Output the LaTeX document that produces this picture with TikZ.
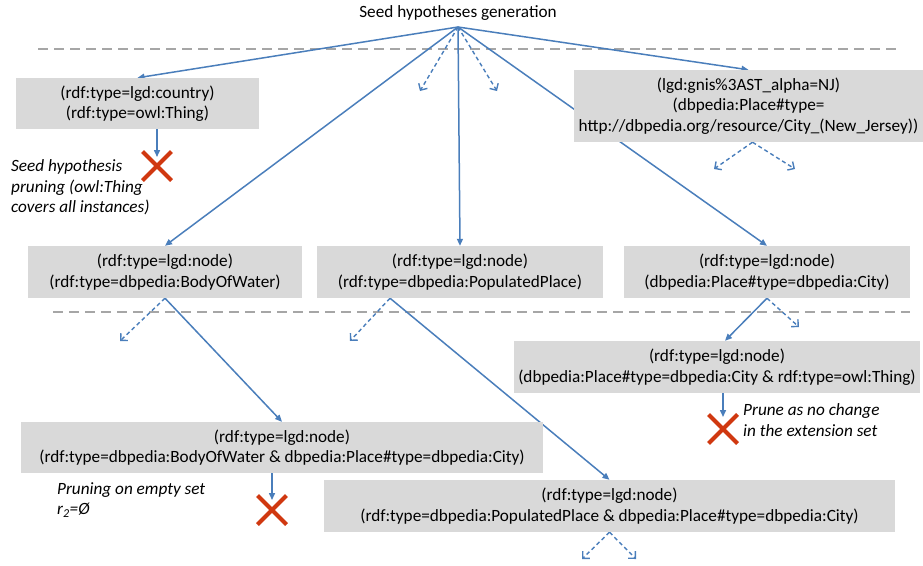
\documentclass[tikz,border=0pt]{standalone}
\usepackage{fontspec}
\setmainfont{Carlito}
\usetikzlibrary{arrows.meta,shapes.misc,calc,backgrounds}

\definecolor{arrblue}{RGB}{74,126,187}
\definecolor{boxgray}{RGB}{217,217,217}
\definecolor{dashgray}{RGB}{166,166,166}
\definecolor{xred}{RGB}{208,56,16}

\tikzset{
 hyp/.style={rectangle, fill=boxgray, inner sep=0pt, align=center, font=\fontsize{17.2}{20.5}\selectfont},
 note/.style={align=left, inner sep=0pt, font=\fontsize{17.2}{20.5}\selectfont\itshape, anchor=west},
 solidarr/.style={draw=arrblue, line width=1.5pt, -{Triangle[length=7pt,width=6pt]}},
 dasharr/.style={draw=arrblue, line width=1.4pt, dash pattern=on 4pt off 3pt, -{Straight Barb[length=5pt,width=10pt]}},
 sepline/.style={draw=dashgray, line width=2pt, dash pattern=on 10pt off 6pt},
 xmark/.style={cross out, draw=xred, line width=4pt, minimum size=25pt, inner sep=0pt},
}

\begin{document}
\begin{tikzpicture}[x=1pt,y=-1pt]
\useasboundingbox (0,0) rectangle (923,565);

% title
\node[font=\fontsize{17.2}{20.5}\selectfont, inner sep=0pt] (seed) at (458,13) {Seed hypotheses generation};
\coordinate (src) at (458,27);

% boxes
\node[hyp, minimum width=243pt, minimum height=51pt] (b1) at (137.5,103.5) {(rdf:type=lgd:country)\\(rdf:type=owl:Thing)};
\node[hyp, minimum width=349pt, minimum height=72pt] (nj) at (748.5,106) {(lgd:gnis\%3AST\_alpha=NJ)\\(dbpedia:Place\#type=\\http://dbpedia.org/resource/City\_(New\_Jersey))};
\node[hyp, minimum width=274pt, minimum height=52pt] (bw) at (165,272) {(rdf:type=lgd:node)\\(rdf:type=dbpedia:BodyOfWater)};
\node[hyp, minimum width=286pt, minimum height=52pt] (pp) at (460,272) {(rdf:type=lgd:node)\\(rdf:type=dbpedia:PopulatedPlace)};
\node[hyp, minimum width=286pt, minimum height=52pt] (ci) at (767,272) {(rdf:type=lgd:node)\\(dbpedia:Place\#type=dbpedia:City)};
\node[hyp, minimum width=406pt, minimum height=52pt] (cit) at (717,367) {(rdf:type=lgd:node)\\(dbpedia:Place\#type=dbpedia:City \& rdf:type=owl:Thing)};
\node[hyp, minimum width=522pt, minimum height=51pt] (bwc) at (282,447.5) {(rdf:type=lgd:node)\\(rdf:type=dbpedia:BodyOfWater \& dbpedia:Place\#type=dbpedia:City)};
\node[hyp, minimum width=571pt, minimum height=52pt] (ppc) at (609.5,506) {(rdf:type=lgd:node)\\(rdf:type=dbpedia:PopulatedPlace \& dbpedia:Place\#type=dbpedia:City)};

% crosses
\node[xmark] (x1) at (157,166) {};
\node[xmark] (x2) at (723,429) {};
\node[xmark] (x3) at (272,510) {};

% notes
\node[note] (n1) at (11,187.5) {Seed hypothesis\\pruning (owl:Thing\\covers all instances)};
\node[note] (n2) at (57,500) {Pruning on empty set\\r\textsubscript{2}=Ø};
\node[note] (n3) at (743,420) {Prune as no change\\in the extension set};

% free ends
\coordinate (s1a) at (38,49);
\coordinate (s1b) at (898,49);
\coordinate (s2a) at (53,312);
\coordinate (s2b) at (910,312);
\coordinate (d1) at (420,91);
\coordinate (d2) at (497,91);
\coordinate (d3) at (714,169);
\coordinate (d4) at (795,169);
\coordinate (d5) at (120,341);
\coordinate (d6) at (350,341);
\coordinate (d7) at (799,327);
\coordinate (d8) at (582,559);
\coordinate (d9) at (636,559);
\coordinate (ppb) at ($(pp.south)+(-70,0)$);
\coordinate (njb) at ($(nj.south)+(4,0)$);

\begin{scope}[on background layer]
\draw[sepline] (s1a) -- (s1b);
\draw[sepline] (s2a) -- (s2b);

\draw[solidarr] (src) -- (b1.north);
\draw[solidarr] (src) -- (nj.north);
\draw[solidarr] (src) -- (bw.north);
\draw[solidarr] (src) -- (pp.north);
\draw[solidarr] (src) -- (ci.north);
\draw[dasharr] (src) -- (d1);
\draw[dasharr] (src) -- (d2);

\draw[dasharr] (njb) -- (d3);
\draw[dasharr] (njb) -- (d4);

\draw[solidarr] (b1.south -| x1.center) -- ($(x1.center)+(0,-9)$);

\draw[dasharr] (bw.south) -- (d5);
\draw[solidarr] (bw.south) -- (bwc.north);

\draw[dasharr] (ppb) -- (d6);
\draw[solidarr] (ppb) -- (ppc.north);

\draw[solidarr] (ci.south) -- ($(cit.north)+(8,0)$);
\draw[dasharr] (ci.south) -- (d7);

\draw[solidarr] (cit.south -| x2.center) -- ($(x2.center)+(0,-12)$);
\draw[solidarr] (bwc.south -| x3.center) -- ($(x3.center)+(0,-10)$);

\draw[dasharr] (ppc.south) -- (d8);
\draw[dasharr] (ppc.south) -- (d9);
\end{scope}
\end{tikzpicture}
\end{document}
